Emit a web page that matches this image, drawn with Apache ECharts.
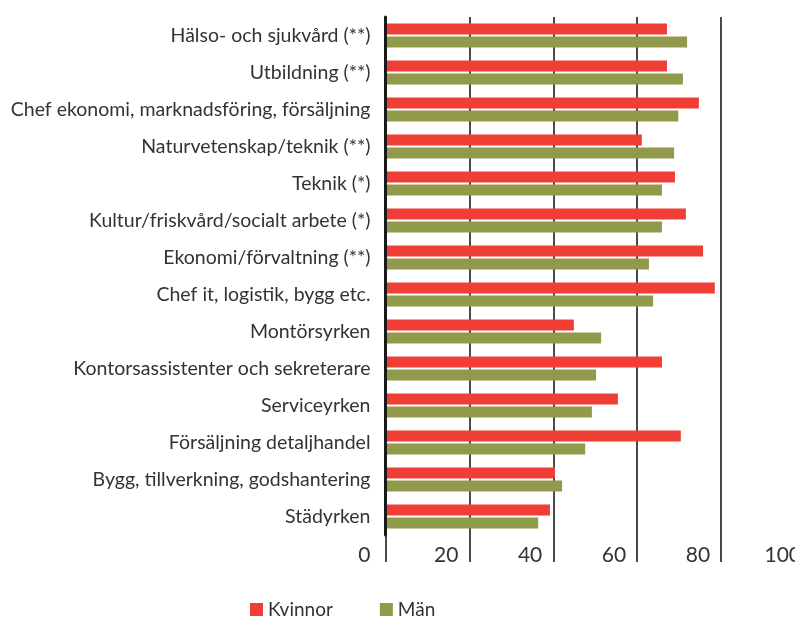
<!DOCTYPE html>
<html>
<head>
<meta charset="utf-8">
<script src="https://cdn.jsdelivr.net/npm/echarts@6/dist/echarts.min.js"></script>
<style>
  html, body { margin: 0; padding: 0; background: #fff; overflow: hidden; }
  /* canvas wider than the window: the 100 gridline falls just past the right edge */
  #chart { width: 830px; height: 617px; }
</style>
</head>
<body>
<div id="chart"></div>
<script>
  var categories = [
    'Hälso- och sjukvård (**)',
    'Utbildning (**)',
    'Chef ekonomi, marknadsföring, försäljning',
    'Naturvetenskap/teknik (**)',
    'Teknik (*)',
    'Kultur/friskvård/socialt arbete (*)',
    'Ekonomi/förvaltning (**)',
    'Chef it, logistik, bygg etc.',
    'Montörsyrken',
    'Kontorsassistenter och sekreterare',
    'Serviceyrken',
    'Försäljning detaljhandel',
    'Bygg, tillverkning, godshantering',
    'Städyrken'
  ]
  var kvinnor = [67.1, 67.1, 74.7, 61.1, 69.0, 71.6, 75.7, 78.5, 44.9, 65.9, 55.4, 70.4, 40.4, 39.2]
  var man = [71.9, 70.9, 69.8, 68.8, 65.9, 65.9, 62.8, 63.8, 51.4, 50.2, 49.2, 47.6, 42.1, 36.4]
  var xTicks = [0, 20, 40, 60, 80, 100]

  var font = 'Lato, "Open Sans", sans-serif'
  var gridColor = '#4a4a4a'
  var tickFont = { fontSize: 21, color: '#333', fontFamily: font }

  var chart = echarts.init(document.getElementById('chart'))
  chart.setOption({
    animation: false,
    textStyle: { fontFamily: font },
    legend: {
      data: ['Kvinnor', 'Män'],
      left: 245,
      top: 595,
      itemWidth: 13,
      itemHeight: 13,
      itemGap: 47,
      icon: 'rect',
      textStyle: { fontSize: 19, color: '#333', fontFamily: font }
    },
    grid: {
      left: 385.5,
      top: 17,
      width: 419.5,
      height: 518,
      containLabel: false
    },
    xAxis: {
      type: 'value',
      min: xTicks[0],
      max: xTicks[xTicks.length - 1],
      interval: 20,
      axisLine: { show: false },
      axisTick: { show: true, length: 27, lineStyle: { color: gridColor, width: 2 } },
      splitLine: { show: true, lineStyle: { color: gridColor, width: 2 } },
      axisLabel: {
        align: 'right',
        verticalAlign: 'middle',
        margin: 20,
        formatter: function (v) {
          if (v === 0) return '{z|' + v + '}'
          if (v === 100) return '{e|' + v + '}'
          return '{n|' + v + '}'
        },
        rich: {
          z: Object.assign({ padding: [0, 15, 0, 0] }, tickFont),
          n: Object.assign({ padding: [0, 11, 0, 0] }, tickFont),
          e: Object.assign({ padding: [0, 4, 0, 0] }, tickFont)
        }
      }
    },
    yAxis: {
      type: 'category',
      data: categories,
      inverse: true,
      z: 3,
      axisLine: { show: true, lineStyle: { color: '#1a1a1a', width: 3 } },
      axisTick: { show: false },
      splitLine: { show: false },
      axisLabel: { fontSize: 19.5, color: '#333', fontFamily: font, margin: 15 }
    },
    series: [
      {
        name: 'Kvinnor',
        type: 'bar',
        data: kvinnor,
        barWidth: 11,
        barGap: '18%',
        itemStyle: { color: '#ef3e36' }
      },
      {
        name: 'Män',
        type: 'bar',
        data: man,
        barWidth: 11,
        barGap: '18%',
        itemStyle: { color: '#919a4a' }
      }
    ]
  })
</script>
</body>
</html>
